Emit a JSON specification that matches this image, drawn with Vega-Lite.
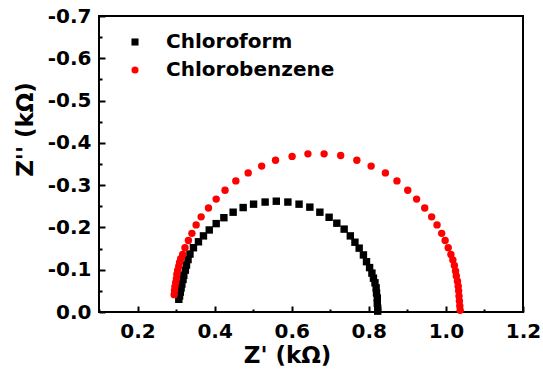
{
  "$schema": "https://vega.github.io/schema/vega-lite/v6.json",
  "width": 424,
  "height": 296,
  "autosize": "none",
  "padding": {"left": 99, "top": 16, "right": 20, "bottom": 69},
  "background": "white",
  "config": {
    "view": {"stroke": "black", "strokeWidth": 2},
    "font": "DejaVu Sans"
  },
  "data": {
    "values": [
      {"series": "Chloroform", "zr": 0.307, "zi": -0.030},
      {"series": "Chloroform", "zr": 0.309, "zi": -0.038},
      {"series": "Chloroform", "zr": 0.311, "zi": -0.047},
      {"series": "Chloroform", "zr": 0.313, "zi": -0.057},
      {"series": "Chloroform", "zr": 0.315, "zi": -0.066},
      {"series": "Chloroform", "zr": 0.318, "zi": -0.077},
      {"series": "Chloroform", "zr": 0.320, "zi": -0.087},
      {"series": "Chloroform", "zr": 0.324, "zi": -0.099},
      {"series": "Chloroform", "zr": 0.327, "zi": -0.111},
      {"series": "Chloroform", "zr": 0.331, "zi": -0.124},
      {"series": "Chloroform", "zr": 0.336, "zi": -0.137},
      {"series": "Chloroform", "zr": 0.345, "zi": -0.152},
      {"series": "Chloroform", "zr": 0.358, "zi": -0.166},
      {"series": "Chloroform", "zr": 0.371, "zi": -0.180},
      {"series": "Chloroform", "zr": 0.386, "zi": -0.194},
      {"series": "Chloroform", "zr": 0.404, "zi": -0.209},
      {"series": "Chloroform", "zr": 0.424, "zi": -0.223},
      {"series": "Chloroform", "zr": 0.448, "zi": -0.236},
      {"series": "Chloroform", "zr": 0.474, "zi": -0.247},
      {"series": "Chloroform", "zr": 0.501, "zi": -0.255},
      {"series": "Chloroform", "zr": 0.531, "zi": -0.260},
      {"series": "Chloroform", "zr": 0.560, "zi": -0.262},
      {"series": "Chloroform", "zr": 0.590, "zi": -0.260},
      {"series": "Chloroform", "zr": 0.619, "zi": -0.255},
      {"series": "Chloroform", "zr": 0.647, "zi": -0.248},
      {"series": "Chloroform", "zr": 0.673, "zi": -0.236},
      {"series": "Chloroform", "zr": 0.697, "zi": -0.224},
      {"series": "Chloroform", "zr": 0.717, "zi": -0.210},
      {"series": "Chloroform", "zr": 0.736, "zi": -0.196},
      {"series": "Chloroform", "zr": 0.752, "zi": -0.180},
      {"series": "Chloroform", "zr": 0.764, "zi": -0.165},
      {"series": "Chloroform", "zr": 0.775, "zi": -0.151},
      {"series": "Chloroform", "zr": 0.786, "zi": -0.135},
      {"series": "Chloroform", "zr": 0.794, "zi": -0.119},
      {"series": "Chloroform", "zr": 0.802, "zi": -0.105},
      {"series": "Chloroform", "zr": 0.808, "zi": -0.092},
      {"series": "Chloroform", "zr": 0.812, "zi": -0.080},
      {"series": "Chloroform", "zr": 0.816, "zi": -0.069},
      {"series": "Chloroform", "zr": 0.819, "zi": -0.057},
      {"series": "Chloroform", "zr": 0.820, "zi": -0.045},
      {"series": "Chloroform", "zr": 0.822, "zi": -0.033},
      {"series": "Chloroform", "zr": 0.822, "zi": -0.021},
      {"series": "Chloroform", "zr": 0.823, "zi": -0.009},
      {"series": "Chloroform", "zr": 0.823, "zi": -0.002},
      {"series": "Chlorobenzene", "zr": 0.295, "zi": -0.041},
      {"series": "Chlorobenzene", "zr": 0.296, "zi": -0.051},
      {"series": "Chlorobenzene", "zr": 0.297, "zi": -0.060},
      {"series": "Chlorobenzene", "zr": 0.299, "zi": -0.070},
      {"series": "Chlorobenzene", "zr": 0.301, "zi": -0.079},
      {"series": "Chlorobenzene", "zr": 0.302, "zi": -0.089},
      {"series": "Chlorobenzene", "zr": 0.304, "zi": -0.098},
      {"series": "Chlorobenzene", "zr": 0.307, "zi": -0.108},
      {"series": "Chlorobenzene", "zr": 0.309, "zi": -0.117},
      {"series": "Chlorobenzene", "zr": 0.312, "zi": -0.126},
      {"series": "Chlorobenzene", "zr": 0.317, "zi": -0.136},
      {"series": "Chlorobenzene", "zr": 0.323, "zi": -0.152},
      {"series": "Chlorobenzene", "zr": 0.332, "zi": -0.169},
      {"series": "Chlorobenzene", "zr": 0.341, "zi": -0.186},
      {"series": "Chlorobenzene", "zr": 0.352, "zi": -0.206},
      {"series": "Chlorobenzene", "zr": 0.365, "zi": -0.225},
      {"series": "Chlorobenzene", "zr": 0.384, "zi": -0.246},
      {"series": "Chlorobenzene", "zr": 0.404, "zi": -0.267},
      {"series": "Chlorobenzene", "zr": 0.427, "zi": -0.288},
      {"series": "Chlorobenzene", "zr": 0.455, "zi": -0.310},
      {"series": "Chlorobenzene", "zr": 0.487, "zi": -0.329},
      {"series": "Chlorobenzene", "zr": 0.522, "zi": -0.345},
      {"series": "Chlorobenzene", "zr": 0.558, "zi": -0.359},
      {"series": "Chlorobenzene", "zr": 0.601, "zi": -0.368},
      {"series": "Chlorobenzene", "zr": 0.642, "zi": -0.374},
      {"series": "Chlorobenzene", "zr": 0.684, "zi": -0.374},
      {"series": "Chlorobenzene", "zr": 0.727, "zi": -0.370},
      {"series": "Chlorobenzene", "zr": 0.769, "zi": -0.359},
      {"series": "Chlorobenzene", "zr": 0.806, "zi": -0.345},
      {"series": "Chlorobenzene", "zr": 0.843, "zi": -0.329},
      {"series": "Chlorobenzene", "zr": 0.873, "zi": -0.310},
      {"series": "Chlorobenzene", "zr": 0.901, "zi": -0.288},
      {"series": "Chlorobenzene", "zr": 0.924, "zi": -0.267},
      {"series": "Chlorobenzene", "zr": 0.945, "zi": -0.246},
      {"series": "Chlorobenzene", "zr": 0.963, "zi": -0.225},
      {"series": "Chlorobenzene", "zr": 0.977, "zi": -0.206},
      {"series": "Chlorobenzene", "zr": 0.989, "zi": -0.186},
      {"series": "Chlorobenzene", "zr": 0.998, "zi": -0.169},
      {"series": "Chlorobenzene", "zr": 1.006, "zi": -0.152},
      {"series": "Chlorobenzene", "zr": 1.013, "zi": -0.136},
      {"series": "Chlorobenzene", "zr": 1.018, "zi": -0.123},
      {"series": "Chlorobenzene", "zr": 1.022, "zi": -0.110},
      {"series": "Chlorobenzene", "zr": 1.025, "zi": -0.097},
      {"series": "Chlorobenzene", "zr": 1.027, "zi": -0.085},
      {"series": "Chlorobenzene", "zr": 1.030, "zi": -0.073},
      {"series": "Chlorobenzene", "zr": 1.032, "zi": -0.061},
      {"series": "Chlorobenzene", "zr": 1.033, "zi": -0.050},
      {"series": "Chlorobenzene", "zr": 1.034, "zi": -0.038},
      {"series": "Chlorobenzene", "zr": 1.035, "zi": -0.026},
      {"series": "Chlorobenzene", "zr": 1.036, "zi": -0.014},
      {"series": "Chlorobenzene", "zr": 1.037, "zi": -0.004}
    ]
  },
  "mark": {"type": "point", "filled": true, "opacity": 1, "clip": false},
  "encoding": {
    "x": {
      "field": "zr", "type": "quantitative",
      "scale": {"domain": [0.1, 1.2], "nice": false, "zero": false},
      "axis": {
        "title": "Z' (kΩ)",
        "values": [0.1, 0.2, 0.3, 0.4, 0.5, 0.6, 0.7, 0.8, 0.9, 1.0, 1.1, 1.2],
        "labelExpr": "round(datum.value*10)%2===0 ? format(datum.value, '.1f') : ''",
        "grid": false,
        "domain": false,
        "offset": -6,
        "ticks": true,
        "tickColor": "black", "tickWidth": 2,
        "tickSize": 6,
        "tickDash": {"condition": {"test": "round(datum.value*10)%2===0", "value": [6, 0]}, "value": [0, 3, 3]},
        "labelFont": "DejaVu Sans", "labelFontWeight": "bold", "labelFontSize": 20, "labelColor": "black",
        "labelPadding": 9, "labelFlush": false, "labelOverlap": false,
        "titleFont": "DejaVu Sans", "titleFontWeight": "bold", "titleFontSize": 23, "titleColor": "black",
        "titlePadding": 3, "titleX": 188
      }
    },
    "y": {
      "field": "zi", "type": "quantitative",
      "scale": {"domain": [0, -0.7], "nice": false, "zero": false},
      "axis": {
        "title": "Z'' (kΩ)",
        "values": [0, -0.05, -0.1, -0.15, -0.2, -0.25, -0.3, -0.35, -0.4, -0.45, -0.5, -0.55, -0.6, -0.65, -0.7],
        "labelExpr": "round(datum.value*20)%2===0 ? (datum.value < -0.001 ? '-' : '') + format(abs(datum.value), '.1f') : ''",
        "grid": false,
        "domain": false,
        "offset": -6,
        "ticks": true,
        "tickColor": "black", "tickWidth": 2,
        "tickSize": 6,
        "tickDash": {"condition": {"test": "round(datum.value*20)%2===0", "value": [6, 0]}, "value": [0, 3, 3]},
        "labelFont": "DejaVu Sans", "labelFontWeight": "bold", "labelFontSize": 20, "labelColor": "black",
        "labelPadding": 8, "labelFlush": false, "labelOverlap": false,
        "titleFont": "DejaVu Sans", "titleFontWeight": "bold", "titleFontSize": 23, "titleColor": "black",
        "titlePadding": 10, "titleY": 113
      }
    },
    "color": {
      "field": "series", "type": "nominal",
      "scale": {"domain": ["Chloroform", "Chlorobenzene"], "range": ["black", "red"]},
      "legend": {
        "title": null, "orient": "none", "legendX": 26, "legendY": 16,
        "labelFont": "DejaVu Sans", "labelFontWeight": "bold", "labelFontSize": 20, "labelColor": "black",
        "labelLimit": 400, "labelOffset": 21, "rowPadding": 8, "symbolSize": 50
      }
    },
    "shape": {
      "field": "series", "type": "nominal",
      "scale": {"domain": ["Chloroform", "Chlorobenzene"], "range": ["square", "circle"]}
    },
    "size": {"value": 55}
  }
}
